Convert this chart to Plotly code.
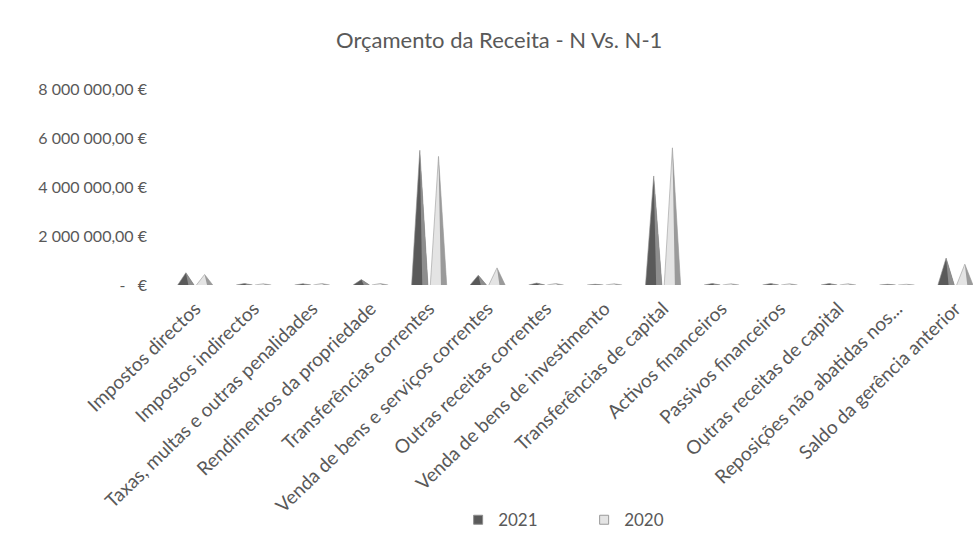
import plotly.graph_objects as go

categories = [
    "Impostos directos",
    "Impostos indirectos",
    "Taxas, multas e outras penalidades",
    "Rendimentos da propriedade",
    "Transferências correntes",
    "Venda de bens e serviços correntes",
    "Outras receitas correntes",
    "Venda de bens de investimento",
    "Transferências de capital",
    "Activos financeiros",
    "Passivos financeiros",
    "Outras receitas de capital",
    "Reposições não abatidas nos...",
    "Saldo da gerência anterior",
]
values_2021 = [500000, 60000, 50000, 220000, 5500000, 400000, 80000, 30000,
               4450000, 60000, 60000, 60000, 30000, 1100000]
values_2020 = [430000, 50000, 60000, 60000, 5250000, 700000, 60000, 50000,
               5600000, 50000, 50000, 50000, 30000, 850000]
y_ticks = [0, 2000000, 4000000, 6000000, 8000000]


def euro(v):
    if v == 0:
        return "-   €"
    return f"{v:,.2f}".replace(",", "\u2009").replace(".", ",").replace("\u2009", " ") + " €"


def cone_paths(vals, offset, half):
    """Outline polygons (separated by None) for a cone per category, plus a side strip."""
    bx, by, sx, sy = [], [], [], []
    for i, v in enumerate(vals):
        c = i + offset
        bx += [c - half, c, c + half, None]
        by += [0, v, 0, None]
        sx += [c + half * 0.3, c, c + half, None]
        sy += [0, v, 0, None]
    return bx, by, sx, sy


fig = go.Figure()
series = [
    ("2021", values_2021, -0.16, "#5a5a5a", "#8e8e8e"),
    ("2020", values_2020, 0.16, "#e4e4e4", "#9a9a9a"),
]
for name, vals, off, body, side in series:
    bx, by, sx, sy = cone_paths(vals, off, 0.14)
    fig.add_trace(go.Scatter(
        x=bx, y=by, mode="lines", fill="toself", fillcolor=body,
        line=dict(width=0.6, color=side), name=name, legendgroup=name,
        showlegend=False, hoverinfo="skip",
    ))
    fig.add_trace(go.Scatter(
        x=sx, y=sy, mode="lines", fill="toself", fillcolor=side,
        line=dict(width=0), name=name, legendgroup=name, showlegend=False,
        hoverinfo="skip",
    ))
    # legend swatch
    fig.add_trace(go.Scatter(
        x=[None], y=[None], mode="markers", name=name, legendgroup=name,
        marker=dict(symbol="square", size=9, color=body,
                    line=dict(width=1, color=side)),
    ))

font_color = "#595959"
fig.update_layout(
    width=975, height=540,
    paper_bgcolor="white", plot_bgcolor="white",
    margin=dict(l=166, r=2, t=89, b=255),
    font=dict(family="Lato, Open Sans, sans-serif", size=16, color=font_color),
    title=dict(text="Orçamento da Receita - N Vs. N-1", x=0.512, xanchor="center",
               y=0.925, yanchor="middle",
               font=dict(size=22, color=font_color)),
    showlegend=True,
    legend=dict(orientation="h", x=0.362, xanchor="left", y=-1.2,
                yanchor="middle", font=dict(size=17, color=font_color),
                itemwidth=30, entrywidth=81, entrywidthmode="pixels",
                traceorder="normal"),
    xaxis=dict(
        range=[-0.5, 13.3],
        tickmode="array", tickvals=list(range(len(categories))),
        ticktext=categories, tickangle=-44,
        showgrid=False, zeroline=False, showline=False, ticks="",
        ticklabelstandoff=8,
        tickfont=dict(size=19, color=font_color),
    ),
    yaxis=dict(
        range=[0, 8000000],
        tickmode="array", tickvals=y_ticks, ticktext=[euro(v) for v in y_ticks],
        showgrid=False, zeroline=False, showline=False, ticks="",
        ticklabelstandoff=18,
        tickfont=dict(size=16, color=font_color),
    ),
)

fig.write_html("out.html")
